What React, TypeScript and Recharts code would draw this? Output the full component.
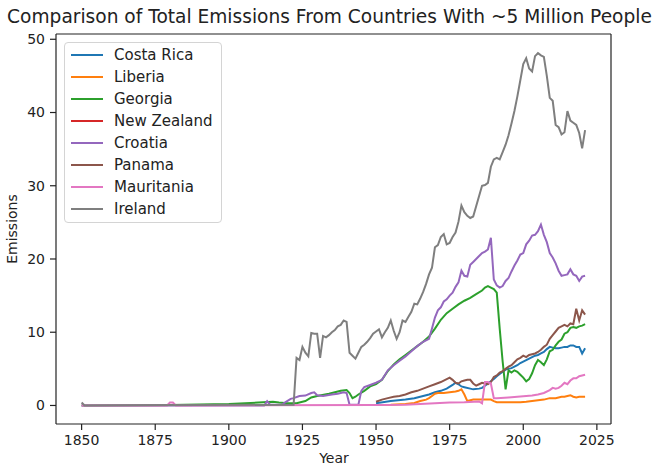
import React from "react"
import { LineChart, Line, XAxis, YAxis, Legend, ReferenceLine } from "recharts"

// yearly totals per country (only years where the line bends are listed)
const costaRicaYears = [1950, 1955, 1960, 1963, 1966, 1968, 1970, 1972, 1974, 1976, 1977, 1978, 1979, 1980, 1982, 1983, 1985, 1986, 1987, 1988, 1989, 1990, 1991, 1992, 1993, 1994, 1995, 1996, 1997, 1998, 1999, 2000, 2001, 2002, 2003, 2004, 2005, 2006, 2007, 2008, 2009, 2010, 2011, 2012, 2013, 2014, 2015, 2016, 2017, 2018, 2019, 2020, 2021]
const costaRicaValues = [0.3, 0.6, 0.8, 1.0, 1.3, 1.5, 1.8, 2.0, 2.3, 2.8, 3.1, 2.9, 2.6, 2.5, 2.3, 2.2, 2.3, 2.4, 2.7, 3.0, 3.3, 3.6, 4.0, 4.3, 4.6, 4.9, 5.0, 5.1, 5.3, 5.5, 5.8, 6.0, 6.2, 6.4, 6.6, 6.8, 6.9, 7.1, 7.3, 7.7, 8.0, 7.9, 7.8, 7.8, 7.9, 8.0, 8.0, 8.2, 8.2, 8.0, 8.0, 7.1, 7.8]

const liberiaYears = [1950, 1955, 1960, 1963, 1965, 1967, 1968, 1969, 1970, 1971, 1973, 1975, 1977, 1978, 1979, 1980, 1981, 1983, 1985, 1987, 1989, 1990, 1991, 1993, 1995, 1997, 1999, 2001, 2003, 2005, 2007, 2009, 2011, 2012, 2013, 2014, 2015, 2016, 2017, 2018, 2019, 2020, 2021]
const liberiaValues = [0.05, 0.1, 0.2, 0.35, 0.6, 0.8, 1.0, 1.3, 1.6, 1.7, 1.7, 1.8, 1.9, 2.0, 2.2, 1.5, 0.6, 0.8, 0.8, 0.8, 0.8, 0.6, 0.45, 0.45, 0.45, 0.45, 0.45, 0.5, 0.6, 0.7, 0.8, 1.0, 1.0, 1.1, 1.2, 1.2, 1.3, 1.4, 1.2, 1.1, 1.2, 1.2, 1.2]

const georgiaYears = [1850, 1880, 1900, 1910, 1915, 1917, 1920, 1923, 1926, 1928, 1930, 1934, 1938, 1940, 1941, 1942, 1943, 1944, 1946, 1948, 1950, 1952, 1954, 1956, 1958, 1960, 1962, 1964, 1966, 1968, 1970, 1972, 1974, 1976, 1978, 1980, 1982, 1984, 1986, 1987, 1988, 1989, 1990, 1991, 1992, 1993, 1994, 1995, 1996, 1997, 1998, 1999, 2000, 2001, 2002, 2003, 2004, 2005, 2006, 2007, 2008, 2009, 2010, 2011, 2012, 2013, 2014, 2015, 2016, 2017, 2018, 2019, 2020, 2021]
const georgiaValues = [0, 0.05, 0.2, 0.4, 0.5, 0.4, 0.3, 0.3, 0.6, 1.1, 1.3, 1.6, 2.0, 2.1, 1.7, 1.0, 1.2, 1.5, 2.0, 2.6, 2.9, 3.5, 4.7, 5.6, 6.3, 6.9, 7.5, 8.1, 8.7, 9.4, 10.5, 11.7, 12.6, 13.2, 13.8, 14.3, 14.7, 15.2, 15.7, 16.1, 16.3, 16.1, 15.9, 15.4, 10.5, 6.0, 2.2, 4.8, 4.5, 4.8, 4.6, 4.2, 3.8, 3.3, 3.6, 4.4, 5.5, 6.2, 5.9, 5.5, 6.3, 7.4, 7.6, 8.2, 8.7, 9.0, 9.8, 10.0, 10.6, 10.7, 10.6, 10.8, 10.9, 11.1]

// no New Zealand rows in the source table, so it only shows up in the legend
const newZealandYears: number[] = []
const newZealandValues: number[] = []

const croatiaYears = [1850, 1912, 1913, 1914, 1918, 1919, 1921, 1922, 1924, 1926, 1928, 1929, 1930, 1932, 1935, 1937, 1939, 1940, 1941, 1944, 1945, 1946, 1948, 1950, 1952, 1954, 1956, 1958, 1960, 1962, 1964, 1966, 1968, 1969, 1970, 1971, 1972, 1973, 1974, 1975, 1976, 1977, 1978, 1979, 1980, 1981, 1982, 1983, 1984, 1985, 1986, 1987, 1988, 1989, 1990, 1991, 1992, 1993, 1994, 1995, 1996, 1997, 1998, 1999, 2000, 2001, 2002, 2003, 2004, 2005, 2006, 2007, 2008, 2009, 2010, 2011, 2012, 2013, 2014, 2015, 2016, 2017, 2018, 2019, 2020, 2021]
const croatiaValues = [0, 0, 0.6, 0.1, 0.1, 0.4, 0.9, 1.0, 1.3, 1.35, 1.7, 1.8, 1.4, 1.3, 1.5, 1.6, 1.8, 1.7, 0.1, 0.1, 2.0, 2.5, 2.8, 3.1, 3.5, 4.8, 5.5, 6.1, 6.7, 7.4, 8.1, 8.7, 9.1, 10.5, 12.0, 13.0, 13.4, 14.2, 14.5, 15.0, 15.4, 16.2, 16.8, 18.4, 17.7, 17.6, 19.2, 19.6, 20.0, 20.4, 20.8, 21.0, 21.3, 22.9, 17.2, 16.4, 16.1, 16.3, 17.0, 17.4, 18.3, 19.1, 19.8, 20.6, 20.8, 22.0, 22.5, 23.2, 23.3, 23.8, 24.7, 23.3, 22.3, 20.8, 20.2, 19.4, 18.4, 17.7, 17.8, 17.9, 18.6, 17.9, 17.7, 17.0, 17.6, 17.7]

const panamaYears = [1950, 1952, 1954, 1956, 1958, 1960, 1962, 1964, 1966, 1968, 1970, 1972, 1974, 1975, 1976, 1977, 1978, 1979, 1980, 1981, 1982, 1983, 1984, 1985, 1986, 1987, 1988, 1989, 1990, 1991, 1992, 1993, 1994, 1995, 1996, 1997, 1998, 1999, 2000, 2001, 2002, 2003, 2004, 2005, 2006, 2007, 2008, 2009, 2010, 2011, 2012, 2013, 2014, 2015, 2016, 2017, 2018, 2019, 2020, 2021]
const panamaValues = [0.5, 0.8, 1.0, 1.2, 1.3, 1.5, 1.8, 2.0, 2.3, 2.6, 2.9, 3.2, 3.6, 3.8, 3.5, 3.1, 3.0, 3.3, 3.4, 3.5, 3.5, 3.0, 2.7, 2.9, 3.1, 3.0, 2.9, 3.2, 3.9, 4.1, 4.5, 4.7, 5.0, 5.3, 5.5, 5.9, 6.3, 6.5, 6.8, 6.6, 6.9, 7.0, 7.1, 7.3, 7.6, 8.0, 8.3, 9.1, 9.6, 10.1, 10.6, 10.8, 11.0, 10.8, 11.2, 11.1, 13.2, 11.6, 13.0, 12.4]

const mauritaniaYears = [1850, 1879, 1880, 1881, 1882, 1950, 1960, 1965, 1970, 1975, 1980, 1985, 1986, 1987, 1988, 1989, 1990, 1991, 1995, 2000, 2003, 2005, 2007, 2009, 2010, 2011, 2012, 2013, 2014, 2015, 2016, 2017, 2018, 2019, 2020, 2021]
const mauritaniaValues = [0, 0, 0.4, 0.4, 0, 0.05, 0.1, 0.2, 0.3, 0.4, 0.45, 0.55, 0.3, 3.2, 3.2, 3.0, 1.0, 1.0, 1.1, 1.25, 1.35, 1.5, 1.7, 2.1, 2.4, 2.3, 2.4, 2.7, 3.1, 2.9, 3.4, 3.7, 3.7, 4.0, 4.1, 4.2]

const irelandYears = [1850, 1851, 1922, 1923, 1924, 1925, 1926, 1927, 1928, 1929, 1930, 1931, 1932, 1933, 1934, 1935, 1936, 1937, 1938, 1939, 1940, 1941, 1942, 1943, 1944, 1945, 1946, 1947, 1948, 1949, 1950, 1951, 1952, 1953, 1954, 1955, 1956, 1957, 1958, 1959, 1960, 1961, 1962, 1963, 1964, 1965, 1966, 1967, 1968, 1969, 1970, 1971, 1972, 1973, 1974, 1975, 1976, 1977, 1978, 1979, 1980, 1981, 1982, 1983, 1984, 1985, 1986, 1987, 1988, 1989, 1990, 1991, 1992, 1993, 1994, 1995, 1996, 1997, 1998, 1999, 2000, 2001, 2002, 2003, 2004, 2005, 2006, 2007, 2008, 2009, 2010, 2011, 2012, 2013, 2014, 2015, 2016, 2017, 2018, 2019, 2020, 2021]
const irelandValues = [0.4, 0, 0.1, 6.5, 6.2, 8.0, 7.2, 6.7, 9.9, 9.8, 9.8, 6.5, 9.5, 9.3, 9.6, 10.0, 10.3, 10.8, 11.0, 11.6, 11.4, 7.2, 6.8, 6.4, 7.2, 8.0, 8.3, 8.7, 9.2, 9.8, 10.1, 10.4, 9.3, 10.0, 10.6, 11.6, 10.2, 9.1, 10.0, 11.6, 11.4, 12.1, 12.8, 13.9, 13.8, 14.6, 15.5, 16.6, 17.9, 18.8, 21.6, 21.9, 23.0, 23.4, 22.0, 22.2, 23.0, 23.6, 25.1, 27.3, 26.4, 25.9, 25.6, 25.8, 27.2, 28.6, 30.0, 30.1, 30.4, 32.6, 33.6, 33.8, 33.6, 34.6, 35.6, 36.9, 38.5, 40.2, 42.2, 44.4, 46.6, 47.4, 46.0, 45.6, 47.7, 48.1, 47.8, 47.6, 45.0, 42.0, 41.6, 38.3, 38.0, 37.0, 37.3, 40.2, 38.9, 38.6, 38.3, 37.2, 35.1, 37.6]

const xTicks = [1850, 1875, 1900, 1925, 1950, 1975, 2000, 2025]
const yTicks = [0, 10, 20, 30, 40, 50]

const X_MIN = 1841.3
const X_MAX = 2029.8
const Y_MIN = -2.53
const Y_MAX = 50.72

const FONT = "'DejaVu Sans', sans-serif"
const INK = "#222"

const series = [
  { name: "Costa Rica", color: "#1f77b4", years: costaRicaYears, values: costaRicaValues },
  { name: "Liberia", color: "#ff7f0e", years: liberiaYears, values: liberiaValues },
  { name: "Georgia", color: "#2ca02c", years: georgiaYears, values: georgiaValues },
  { name: "New Zealand", color: "#d62728", years: newZealandYears, values: newZealandValues },
  { name: "Croatia", color: "#9467bd", years: croatiaYears, values: croatiaValues },
  { name: "Panama", color: "#8c564b", years: panamaYears, values: panamaValues },
  { name: "Mauritania", color: "#e377c2", years: mauritaniaYears, values: mauritaniaValues },
  { name: "Ireland", color: "#7f7f7f", years: irelandYears, values: irelandValues },
]

const seriesOrder = series.map((s) => s.name)

function toPoints(years: number[], values: number[]) {
  return years.map((year, i) => ({ year, value: values[i] }))
}

function LegendBox({ payload }: any) {
  // keep the plotting order rather than the alphabetical one
  const items = [...(payload || [])].sort(
    (a: any, b: any) => seriesOrder.indexOf(a.value) - seriesOrder.indexOf(b.value)
  )
  return (
    <div
      style={{
        border: "1px solid #d4d4d4",
        borderRadius: 4,
        background: "rgba(255,255,255,0.85)",
        padding: "1px 0 2px 0",
        fontFamily: FONT,
        fontSize: 15,
        color: INK,
      }}
    >
      {items.map((item: any) => (
        <div key={item.value} style={{ display: "flex", alignItems: "center", height: 22 }}>
          <span
            style={{
              display: "inline-block",
              width: 32,
              height: 2,
              marginLeft: 6,
              marginRight: 11,
              background: item.color,
            }}
          />
          <span>{item.value}</span>
        </div>
      ))}
    </div>
  )
}

export default function App() {
  return (
    <div style={{ position: "absolute", left: 0, top: 0, width: 659, height: 466, background: "#fff", fontFamily: FONT }}>
      <div
        style={{
          position: "absolute",
          left: 0,
          width: 659,
          top: 6,
          textAlign: "center",
          fontSize: 18.6,
          lineHeight: "22px",
          color: INK,
          whiteSpace: "nowrap",
        }}
      >
        Comparison of Total Emissions From Countries With ~5 Million People
      </div>
      <div
        style={{
          position: "absolute",
          left: 12,
          top: 229,
          transform: "translate(-50%, -50%) rotate(-90deg)",
          fontSize: 14,
          color: INK,
          whiteSpace: "nowrap",
        }}
      >
        Emissions
      </div>
      <div
        style={{
          position: "absolute",
          left: 334,
          top: 458,
          transform: "translate(-50%, -50%)",
          fontSize: 14,
          color: INK,
        }}
      >
        Year
      </div>
      <LineChart width={659} height={466} margin={{ top: 34, right: 48, bottom: 0, left: 0 }}>
        <XAxis
          dataKey="year"
          type="number"
          domain={[X_MIN, X_MAX]}
          allowDataOverflow
          ticks={xTicks}
          interval={0}
          height={42}
          tickSize={6}
          tickMargin={5}
          stroke={INK}
          strokeWidth={1.2}
          tick={{ fill: INK, fontSize: 14, fontFamily: FONT }}
        />
        <YAxis
          type="number"
          domain={[Y_MIN, Y_MAX]}
          allowDataOverflow
          ticks={yTicks}
          interval={0}
          width={56}
          tickSize={6}
          tickMargin={5}
          stroke={INK}
          strokeWidth={1.2}
          tick={{ fill: INK, fontSize: 14, fontFamily: FONT }}
        />
        <ReferenceLine y={Y_MAX} stroke={INK} strokeWidth={1.2} ifOverflow="extendDomain" />
        <ReferenceLine x={X_MAX} stroke={INK} strokeWidth={1.2} ifOverflow="extendDomain" />
        {series.map((s) => (
          <Line
            key={s.name}
            name={s.name}
            data={toPoints(s.years, s.values)}
            dataKey="value"
            stroke={s.color}
            strokeWidth={2}
            dot={false}
            activeDot={false}
            isAnimationActive={false}
          />
        ))}
        <Legend
          layout="vertical"
          align="center"
          verticalAlign="middle"
          content={<LegendBox />}
          wrapperStyle={{ left: 64, top: 42, width: 158 }}
        />
      </LineChart>
    </div>
  )
}
